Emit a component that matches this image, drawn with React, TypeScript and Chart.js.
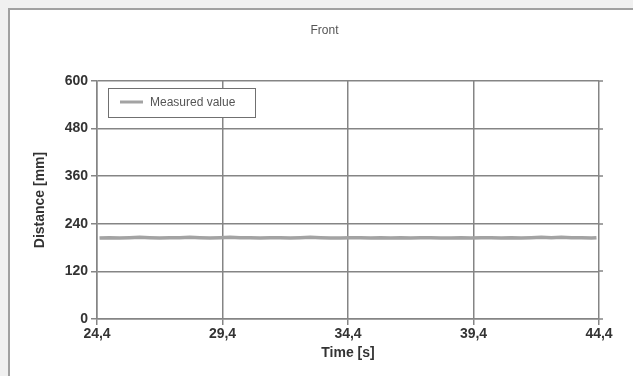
import React, { useEffect, useRef } from "react";
import { Chart, registerables } from "chart.js";

Chart.register(...registerables);

const chartTitle = "Front";
const seriesLabel = "Measured value";
const xTitle = "Time [s]";
const yTitle = "Distance [mm]";

const timeValues = [
  24.5, 24.9, 25.3, 25.7, 26.1, 26.5, 26.9, 27.3, 27.7, 28.1,
  28.5, 28.9, 29.3, 29.7, 30.1, 30.5, 30.9, 31.3, 31.7, 32.1,
  32.5, 32.9, 33.3, 33.7, 34.1, 34.5, 34.9, 35.3, 35.7, 36.1,
  36.5, 36.9, 37.3, 37.7, 38.1, 38.5, 38.9, 39.3, 39.7, 40.1,
  40.5, 40.9, 41.3, 41.7, 42.1, 42.5, 42.9, 43.3, 43.7, 44.1, 44.3,
];
const distanceValues = [
  204, 205, 204, 205, 206, 205, 204, 205, 205, 206,
  205, 204, 205, 206, 205, 205, 204, 205, 205, 204,
  205, 206, 205, 204, 204, 205, 205, 204, 205, 204,
  205, 204, 205, 205, 204, 204, 205, 204, 205, 205,
  204, 205, 204, 205, 206, 205, 206, 205, 205, 204, 205,
];

const xTickValues = [24.4, 29.4, 34.4, 39.4, 44.4];
const xTickLabels = ["24,4", "29,4", "34,4", "39,4", "44,4"];
const yTickValues = [0, 120, 240, 360, 480, 600];
const yTickLabels = ["0", "120", "240", "360", "480", "600"];

const FONT = "'Liberation Sans', Arial, sans-serif";
const GRID = "#858585";

const frameTitle = {
  id: "frameTitle",
  afterDraw(chart: any) {
    const { ctx } = chart;
    ctx.save();
    ctx.fillStyle = "#555555";
    ctx.font = `12px ${FONT}`;
    ctx.textAlign = "center";
    ctx.textBaseline = "middle";
    ctx.fillText(chartTitle, chart.width / 2 + 3, 21);
    ctx.restore();
  },
};

const rightTicks = {
  id: "rightTicks",
  afterDraw(chart: any) {
    const { ctx, chartArea } = chart;
    const ys = chart.scales.y;
    ctx.save();
    ctx.strokeStyle = GRID;
    ctx.lineWidth = 1.5;
    yTickValues.forEach((v) => {
      const py = Math.round(ys.getPixelForValue(v));
      ctx.beginPath();
      ctx.moveTo(chartArea.right, py);
      ctx.lineTo(chartArea.right + 4, py);
      ctx.stroke();
    });
    ctx.restore();
  },
};

const boxLegend = {
  id: "boxLegend",
  afterDraw(chart: any) {
    const { ctx, chartArea } = chart;
    const ds = chart.data.datasets[0];
    const x = Math.round(chartArea.left) + 11;
    const y = Math.round(chartArea.top) + 7;
    const w = 147;
    const h = 29;
    ctx.save();
    ctx.fillStyle = "#ffffff";
    ctx.fillRect(x, y, w, h);
    ctx.strokeStyle = "#707070";
    ctx.lineWidth = 1;
    ctx.strokeRect(x + 0.5, y + 0.5, w, h);
    ctx.strokeStyle = ds.borderColor;
    ctx.lineWidth = 3;
    ctx.beginPath();
    ctx.moveTo(x + 12, y + 14);
    ctx.lineTo(x + 35, y + 14);
    ctx.stroke();
    ctx.fillStyle = "#555555";
    ctx.font = `12px ${FONT}`;
    ctx.textBaseline = "middle";
    ctx.textAlign = "left";
    ctx.fillText(ds.label, x + 42, y + 14.5);
    ctx.restore();
  },
};

export default function App() {
  const canvasRef = useRef<HTMLCanvasElement | null>(null);

  useEffect(() => {
    if (!canvasRef.current) return;
    const chart = new Chart(canvasRef.current, {
      type: "line",
      data: {
        datasets: [
          {
            label: seriesLabel,
            data: timeValues.map((t, i) => ({ x: t, y: distanceValues[i] })),
            borderColor: "#a3a3a3",
            borderWidth: 3.5,
            pointRadius: 0,
            tension: 0,
          },
        ],
      },
      options: {
        responsive: false,
        animation: false,
        layout: { padding: { left: 0, right: 34, top: 71, bottom: 0 } },
        plugins: {
          legend: { display: false },
          tooltip: { enabled: false },
          title: { display: false },
        },
        scales: {
          x: {
            type: "linear",
            min: 24.4,
            max: 44.4,
            afterBuildTicks: (scale: any) => {
              scale.ticks = xTickValues.map((v) => ({ value: v }));
            },
            afterFit: (scale: any) => {
              scale.height = 57;
            },
            ticks: {
              autoSkip: false,
              maxRotation: 0,
              padding: 1,
              color: "#333333",
              font: { family: FONT, size: 14, weight: "bold" },
              callback: (_v: any, i: number) => xTickLabels[i],
            },
            grid: { color: GRID, lineWidth: 1.5, tickLength: 6, tickColor: GRID },
            border: { color: GRID, width: 1.5 },
            title: {
              display: true,
              text: xTitle,
              color: "#333333",
              font: { family: FONT, size: 14, weight: "bold", lineHeight: 1.2 },
              padding: { top: 0, bottom: 14 },
            },
          },
          y: {
            type: "linear",
            min: 0,
            max: 600,
            afterBuildTicks: (scale: any) => {
              scale.ticks = yTickValues.map((v) => ({ value: v }));
            },
            afterFit: (scale: any) => {
              scale.width = 87;
            },
            ticks: {
              autoSkip: false,
              padding: 3,
              color: "#333333",
              font: { family: FONT, size: 14, weight: "bold" },
              callback: (_v: any, i: number) => yTickLabels[i],
            },
            grid: { color: GRID, lineWidth: 1.5, tickLength: 6, tickColor: GRID },
            border: { color: GRID, width: 1.5 },
            title: {
              display: true,
              text: yTitle,
              color: "#333333",
              font: { family: FONT, size: 14, weight: "bold", lineHeight: 1.2 },
              padding: { top: 22, bottom: 0 },
            },
          },
        },
      },
      plugins: [frameTitle, rightTicks, boxLegend],
    });
    return () => chart.destroy();
  }, []);

  return (
    <div
      style={{
        position: "fixed",
        left: 0,
        top: 0,
        width: 633,
        height: 376,
        background: "#f0f0f0",
        overflow: "hidden",
      }}
    >
      <div
        style={{
          position: "absolute",
          left: 8,
          top: 8,
          width: 640,
          height: 380,
          background: "#ffffff",
          borderTop: "2px solid #a0a0a0",
          borderLeft: "2px solid #a0a0a0",
        }}
      >
        <canvas
          ref={canvasRef}
          width={623}
          height={366}
          style={{ display: "block", width: 623, height: 366 }}
        />
      </div>
    </div>
  );
}
